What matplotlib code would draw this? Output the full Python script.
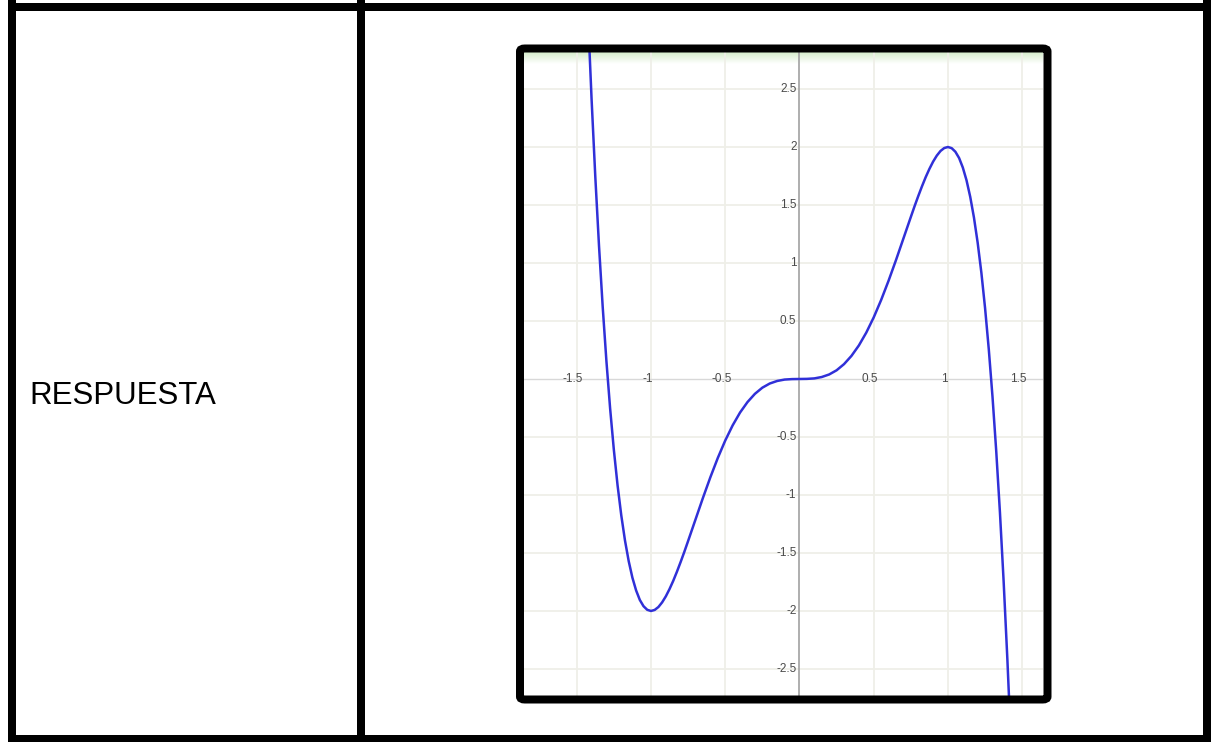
import numpy as np
import matplotlib.pyplot as plt
from matplotlib.patches import FancyBboxPatch
from matplotlib.lines import Line2D

plt.rcParams['font.family'] = ['Liberation Sans', 'DejaVu Sans']

# points of the curve
xs = [-1.45, -1.425, -1.40, -1.375, -1.35, -1.325, -1.30, -1.275, -1.25, -1.225,
      -1.20, -1.175, -1.15, -1.125, -1.10, -1.075, -1.05, -1.025, -1.00,
      -0.975, -0.95, -0.925, -0.90, -0.875, -0.85, -0.825, -0.80, -0.775, -0.75,
      -0.70, -0.65, -0.60, -0.55, -0.50,
      -0.45, -0.40, -0.35, -0.30, -0.25, -0.20, -0.15, -0.10, -0.05, 0.00,
      0.05, 0.10, 0.15, 0.20, 0.25, 0.30, 0.35, 0.40, 0.45, 0.50,
      0.55, 0.60, 0.65, 0.70, 0.75, 0.775, 0.80, 0.825, 0.85, 0.875, 0.90,
      0.925, 0.95, 0.975, 1.00,
      1.025, 1.05, 1.075, 1.10, 1.125, 1.15, 1.175, 1.20, 1.225, 1.25,
      1.275, 1.30, 1.325, 1.35, 1.375, 1.40, 1.425, 1.45]
ys = [3.986, 3.160, 2.415, 1.747, 1.150, 0.621, 0.154, -0.255, -0.610, -0.916,
      -1.175, -1.392, -1.570, -1.713, -1.823, -1.905, -1.959, -1.990, -2.000,
      -1.991, -1.966, -1.926, -1.874, -1.811, -1.740, -1.661, -1.577, -1.489, -1.397,
      -1.211, -1.025, -0.847, -0.681, -0.531,
      -0.400, -0.289, -0.199, -0.128, -0.075, -0.039, -0.017, -0.005, -0.001, 0.000,
      0.001, 0.005, 0.017, 0.039, 0.075, 0.128, 0.199, 0.289, 0.400, 0.531,
      0.681, 0.847, 1.025, 1.211, 1.397, 1.489, 1.577, 1.661, 1.740, 1.811, 1.874,
      1.926, 1.966, 1.991, 2.000,
      1.990, 1.959, 1.905, 1.823, 1.713, 1.570, 1.392, 1.175, 0.916, 0.610,
      0.255, -0.154, -0.621, -1.150, -1.747, -2.415, -3.160, -3.986]

x_ticks = [-1.5, -1, -0.5, 0.5, 1, 1.5]
x_labels = ['-1.5', '-1', '-0.5', '0.5', '1', '1.5']
y_ticks = [2.5, 2, 1.5, 1, 0.5, -0.5, -1, -1.5, -2, -2.5]
y_labels = ['2.5', '2', '1.5', '1', '0.5', '-0.5', '-1', '-1.5', '-2', '-2.5']

W, H = 1211, 742
fig = plt.figure(figsize=(W / 100, H / 100), dpi=100)

def fx(px):
    return px / W

def fy(py):
    return 1 - py / H

# table lines
lw_tab = 8 * 72 / 100
for (x0, y0, x1, y1) in [(12, 7, 1207, 7), (12, 739, 1207, 739),
                         (12, 3, 12, 742), (1207, 3, 1207, 742),
                         (361, 3, 361, 742)]:
    fig.add_artist(Line2D([fx(x0), fx(x1)], [fy(y0), fy(y1)], color='black',
                          lw=lw_tab, solid_capstyle='projecting'))

fig.text(fx(29), fy(396), 'RESPUESTA', fontsize=22.5, ha='left', va='center', color='black')

# graph
left, right, top, bottom = 524, 1043, 52, 696
ax = fig.add_axes([fx(left), fy(bottom), fx(right - left), (bottom - top) / H])
xmin, xmax = -1.855, 1.640
ymin, ymax = -2.733, 2.819
ax.set_xlim(xmin, xmax)
ax.set_ylim(ymin, ymax)
for s in ax.spines.values():
    s.set_visible(False)
ax.set_xticks([])
ax.set_yticks([])

# green strip at the top
grad = np.linspace(1, 0, 30).reshape(-1, 1)
green = np.array([0.84, 0.93, 0.80])
img = np.ones((30, 1, 3)) * (1 - grad[..., None]) + green * grad[..., None]
ax.imshow(img, extent=[xmin, xmax, ymax - 0.1, ymax], aspect='auto', zorder=0)

for v in x_ticks:
    ax.axvline(v, color='#efefe8', lw=1.3, zorder=1)
for v in y_ticks:
    ax.axhline(v, color='#efefe8', lw=1.3, zorder=1)
ax.axvline(0, color='#a8a8a8', lw=1.3, zorder=2)
ax.axhline(0, color='#d8d8d8', lw=1.0, zorder=2)

for v, t in zip(x_ticks, x_labels):
    ax.text(v - 0.025, 0.0, t, fontsize=8.5, color='#4a4a4a', ha='center', va='center', zorder=3)
for v, t in zip(y_ticks, y_labels):
    ax.text(-0.02, v, t, fontsize=8.5, color='#4a4a4a', ha='right', va='center', zorder=3)

ax.plot(xs, ys, color='#3030d8', lw=1.8, zorder=4)

# thick rounded frame round the graph
frame = FancyBboxPatch((fx(520), fy(699.5)), fx(1047.5 - 520), (699.5 - 48.5) / H,
                       boxstyle='round,pad=0,rounding_size=0.004',
                       transform=fig.transFigure, facecolor='none',
                       edgecolor='black', lw=lw_tab, zorder=10)
fig.add_artist(frame)

fig.savefig('out.png', dpi=100)
